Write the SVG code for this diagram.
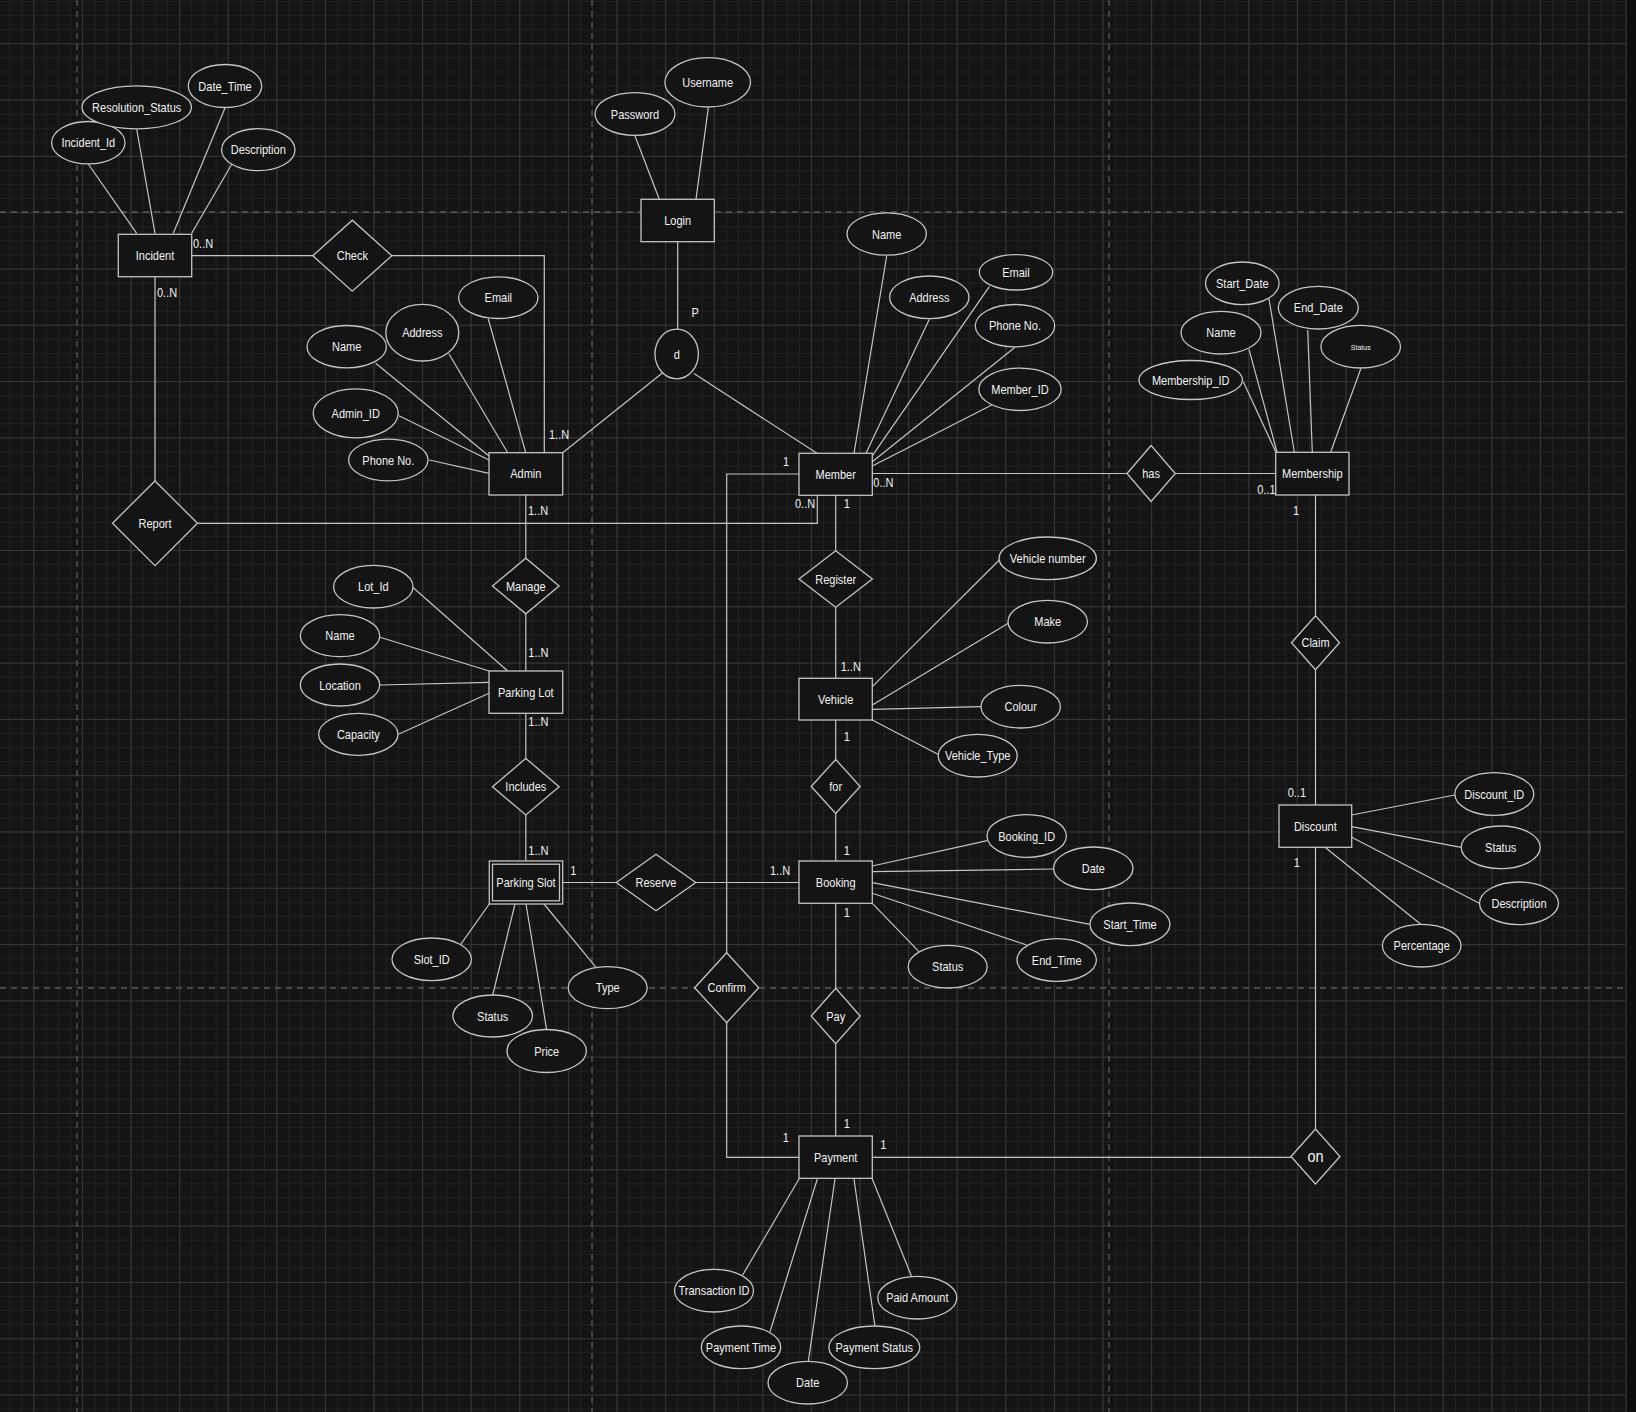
<svg xmlns="http://www.w3.org/2000/svg" width="1636" height="1412" viewBox="0 0 1636 1412">
<defs>
<style>
.ent{fill:#141414;stroke:#c4c4c4;stroke-width:1.3}
.lnk{fill:none;stroke:#c4c4c4;stroke-width:1.2}
.pg{stroke:#5a5a5a;stroke-width:1.3;stroke-dasharray:6 5;fill:none}
text{font-family:"Liberation Sans",Arial,Helvetica,sans-serif;font-size:11px;fill:#f2f2f2;text-anchor:middle}
.lb{text-anchor:start}
</style>
<pattern id="minor" x="33.3" y="43.3" width="12.15" height="14.075" patternUnits="userSpaceOnUse"><path d="M0 0.5H12.15M0.5 0V14.075" stroke="#212121" stroke-width="1"/></pattern>
<pattern id="major" x="33.3" y="43.3" width="48.6" height="56.3" patternUnits="userSpaceOnUse"><path d="M0 0.5H48.6M0.5 0V56.3" stroke="#363636" stroke-width="1"/></pattern>
</defs>
<rect width="1636" height="1412" fill="#141414"/>
<rect width="1626" height="1412" fill="url(#minor)"/>
<rect width="1626" height="1412" fill="url(#major)"/>
<rect x="1626" y="0" width="10" height="1412" fill="#0e0e0e"/>
<path d="M1626.5 0V1412" stroke="#2c2c2c" stroke-width="1"/>
<g id="page-breaks">
<path class="pg" d="M77 0V1412M592 0V1412M1109 0V1412M0 212H1626M0 988H1626"/>
</g>
<g id="connectors">
<path class="lnk" d="M88.3 164L136.7 233.3M136.7 129L155 233.3M225 108L173.3 233.3M231.7 164.3L191.7 233.3"/>
<path class="lnk" d="M191.7 255.7H312.8M391.8 255.7H544.3V452.7"/>
<path class="lnk" d="M155 276.7V481M197.5 523.3H817.3V495.3"/>
<path class="lnk" d="M635 136L659.3 199.3M708.3 107.7L696 199.3M677.7 241.7V329.2M662.7 372.7L562.7 452.7M694 373.5L817 453.3"/>
<path class="lnk" d="M375.7 363.3L489 456M449 354L507.7 452.7M488.3 319L525.7 452.7M399 415.7L489 460M429.3 460L489 473.3"/>
<path class="lnk" d="M525.8 495V558.2M525.8 613.8V671M525.8 713.3V758.4M525.8 815V861"/>
<path class="lnk" d="M413.3 587.7L507.7 671M380 637.3L489 671M380 685L489 682.3M398.3 734.3L489 693.3"/>
<path class="lnk" d="M460.7 944.3L489.3 904M492.7 995L515 904M546.7 1030L526 904M596 967.3L544 904"/>
<path class="lnk" d="M562.7 882.5H616.3M695.7 882.5H799"/>
<path class="lnk" d="M799 474H726.7V1157.3H799"/>
<path class="lnk" d="M886.7 256L854 453.3M929.3 319.3L866 453.3M989.3 286.7L871.7 456.7M1015 347.3L872.3 461.7M991.7 405L872.3 466"/>
<path class="lnk" d="M872.3 473.5H1127M1175.3 473.5H1275.7"/>
<path class="lnk" d="M1243.3 381.7L1275.7 451.7M1249 349.3L1277 452M1269 299L1294.3 452M1307.7 330L1312.3 452M1360.7 369L1330.7 452"/>
<path class="lnk" d="M1315.5 495V615.7M1315.5 669.7V805M1315.5 847.3V1129M872.3 1157.3H1291"/>
<path class="lnk" d="M1455 795L1351.7 815M1461 847.3L1351.7 826.7M1479.3 903.3L1351.7 837.3M1421.7 925L1325 847.3"/>
<path class="lnk" d="M835.7 495.3V550.7M835.7 607.3V678.3M835.7 720V759.5M835.7 813.5V861M835.7 903.3V988.2M835.7 1043.8V1136"/>
<path class="lnk" d="M999.3 560L872.3 686.7M1008.3 623.3L872.3 705M981.7 706.7L872.3 709.3M939.3 755L872.3 720"/>
<path class="lnk" d="M987.3 840.7L872.3 866M1054 869L872.3 871.7M1090 924.3L872.3 882.7M1026.7 945L872.3 893.3M919 951.7L872.3 903.3"/>
<path class="lnk" d="M742.7 1275L799 1179M770 1331.7L817.3 1179M808.3 1361.7L835 1179M875 1326.7L854 1179M911.7 1276.7L872.3 1179"/>
</g>
<g id="cardinalities">
<text class="lb" transform="translate(193 243) scale(1 1.16)" y="4">0..N</text>
<text class="lb" transform="translate(157 292) scale(1 1.16)" y="4">0..N</text>
<text class="lb" transform="translate(549 434) scale(1 1.16)" y="4">1..N</text>
<text class="lb" transform="translate(528 510.7) scale(1 1.16)" y="4">1..N</text>
<text class="lb" transform="translate(691.5 312.7) scale(1 1.16)" y="4">P</text>
<text transform="translate(786 461) scale(1 1.16)" y="4">1</text>
<text class="lb" transform="translate(873.3 482.3) scale(1 1.16)" y="4">0..N</text>
<text class="lb" transform="translate(795 503.3) scale(1 1.16)" y="4">0..N</text>
<text transform="translate(846.7 503.3) scale(1 1.16)" y="4">1</text>
<text class="lb" transform="translate(1257.3 489.3) scale(1 1.16)" y="4">0..1</text>
<text transform="translate(1296 510) scale(1 1.16)" y="4">1</text>
<text class="lb" transform="translate(528.3 652.7) scale(1 1.16)" y="4">1..N</text>
<text class="lb" transform="translate(528.3 721.7) scale(1 1.16)" y="4">1..N</text>
<text class="lb" transform="translate(528.3 850) scale(1 1.16)" y="4">1..N</text>
<text transform="translate(573.3 870.7) scale(1 1.16)" y="4">1</text>
<text class="lb" transform="translate(770 870) scale(1 1.16)" y="4">1..N</text>
<text class="lb" transform="translate(840.7 666.7) scale(1 1.16)" y="4">1..N</text>
<text transform="translate(846.7 736) scale(1 1.16)" y="4">1</text>
<text transform="translate(846.7 850) scale(1 1.16)" y="4">1</text>
<text transform="translate(846.7 912.3) scale(1 1.16)" y="4">1</text>
<text class="lb" transform="translate(1287.7 792.7) scale(1 1.16)" y="4">0..1</text>
<text transform="translate(1296.7 862.7) scale(1 1.16)" y="4">1</text>
<text transform="translate(846.7 1123.3) scale(1 1.16)" y="4">1</text>
<text transform="translate(785.7 1137.7) scale(1 1.16)" y="4">1</text>
<text transform="translate(883.3 1144.3) scale(1 1.16)" y="4">1</text>
</g>
<g id="incident"><rect class="ent" x="118.3" y="234.3" width="73.4" height="42.4"/><text transform="translate(155 255.5) scale(1 1.16)" y="4">Incident</text></g>
<g id="login"><rect class="ent" x="641" y="199.3" width="73.3" height="42.4"/><text transform="translate(677.7 220.5) scale(1 1.16)" y="4">Login</text></g>
<g id="admin"><rect class="ent" x="489" y="452.7" width="73.7" height="42.3"/><text transform="translate(525.8 473.8) scale(1 1.16)" y="4">Admin</text></g>
<g id="member"><rect class="ent" x="799" y="453.3" width="73.3" height="42"/><text transform="translate(835.7 474.3) scale(1 1.16)" y="4">Member</text></g>
<g id="membership"><rect class="ent" x="1275.7" y="452.3" width="73.3" height="42.7"/><text transform="translate(1312.3 473.7) scale(1 1.16)" y="4">Membership</text></g>
<g id="parking-lot"><rect class="ent" x="489" y="671" width="73.7" height="42.3"/><text transform="translate(525.8 692) scale(1 1.16)" y="4">Parking Lot</text></g>
<g id="vehicle"><rect class="ent" x="799" y="678.3" width="73.3" height="41.7"/><text transform="translate(835.7 699) scale(1 1.16)" y="4">Vehicle</text></g>
<g id="parking-slot"><rect class="ent" x="489.3" y="861" width="73.4" height="43"/><rect class="ent" x="492.5" y="864.2" width="67" height="36.6"/><text transform="translate(526 882.5) scale(1 1.16)" y="4">Parking Slot</text></g>
<g id="booking"><rect class="ent" x="799" y="861" width="73.3" height="42.3"/><text transform="translate(835.7 882) scale(1 1.16)" y="4">Booking</text></g>
<g id="discount"><rect class="ent" x="1279" y="805" width="72.7" height="42.3"/><text transform="translate(1315.3 826) scale(1 1.16)" y="4">Discount</text></g>
<g id="payment"><rect class="ent" x="799" y="1136" width="73.3" height="42.3"/><text transform="translate(835.7 1157) scale(1 1.16)" y="4">Payment</text></g>
<g id="check"><path class="ent" d="M312.8 255.7L352.3 220.2L391.8 255.7L352.3 291.2Z"/><text transform="translate(352.3 255.7) scale(1 1.16)" y="4">Check</text></g>
<g id="report"><path class="ent" d="M112.5 523.3L155 481L197.5 523.3L155 565.6Z"/><text transform="translate(155 523.3) scale(1 1.16)" y="4">Report</text></g>
<g id="manage"><path class="ent" d="M492.5 586L525.8 558.2L559.1 586L525.8 613.8Z"/><text transform="translate(525.8 586) scale(1 1.16)" y="4">Manage</text></g>
<g id="includes"><path class="ent" d="M492.5 786.7L525.8 758.4L559.1 786.7L525.8 815Z"/><text transform="translate(525.8 786.7) scale(1 1.16)" y="4">Includes</text></g>
<g id="reserve"><path class="ent" d="M616.3 882.5L656 854.2L695.7 882.5L656 910.8Z"/><text transform="translate(656 882.5) scale(1 1.16)" y="4">Reserve</text></g>
<g id="confirm"><path class="ent" d="M694.7 987.7L726.7 952.7L758.7 987.7L726.7 1022.7Z"/><text transform="translate(726.7 987.7) scale(1 1.16)" y="4">Confirm</text></g>
<g id="register"><path class="ent" d="M799 579L835.7 550.7L872.4 579L835.7 607.3Z"/><text transform="translate(835.7 579) scale(1 1.16)" y="4">Register</text></g>
<g id="for"><path class="ent" d="M811.2 786.5L835.7 759.5L860.2 786.5L835.7 813.5Z"/><text transform="translate(835.7 786.5) scale(1 1.16)" y="4">for</text></g>
<g id="pay"><path class="ent" d="M811.2 1016L835.7 988.2L860.2 1016L835.7 1043.8Z"/><text transform="translate(835.7 1016) scale(1 1.16)" y="4">Pay</text></g>
<g id="has"><path class="ent" d="M1127 473.5L1151.1 445.5L1175.3 473.5L1151.1 501.5Z"/><text transform="translate(1151.1 473.5) scale(1 1.16)" y="4">has</text></g>
<g id="claim"><path class="ent" d="M1291.5 642.7L1315.5 615.7L1339.5 642.7L1315.5 669.7Z"/><text transform="translate(1315.5 642.7) scale(1 1.16)" y="4">Claim</text></g>
<g id="on"><path class="ent" d="M1291 1156.5L1315.5 1129L1340 1156.5L1315.5 1184Z"/><text transform="translate(1315.5 1156.5) scale(1 1.16)" y="5" style="font-size:14.5px">on</text></g>
<g id="d"><ellipse class="ent" cx="676.7" cy="354" rx="21.7" ry="24.8"/><text transform="translate(676.7 354) scale(1 1.16)" y="4">d</text></g>
<g id="incident-id"><ellipse class="ent" cx="88.3" cy="142.7" rx="36.7" ry="21.2"/><text transform="translate(88.3 142.7) scale(1 1.16)" y="4">Incident_Id</text></g>
<g id="resolution-status"><ellipse class="ent" cx="136.7" cy="107.3" rx="54.7" ry="21.5"/><text transform="translate(136.7 107.3) scale(1 1.16)" y="4">Resolution_Status</text></g>
<g id="date-time"><ellipse class="ent" cx="225" cy="86" rx="36.7" ry="21.5"/><text transform="translate(225 86) scale(1 1.16)" y="4">Date_Time</text></g>
<g id="incident-description"><ellipse class="ent" cx="258.3" cy="149.7" rx="36.7" ry="21"/><text transform="translate(258.3 149.7) scale(1 1.16)" y="4">Description</text></g>
<g id="password"><ellipse class="ent" cx="635" cy="114" rx="40" ry="21.3"/><text transform="translate(635 114) scale(1 1.16)" y="4">Password</text></g>
<g id="username"><ellipse class="ent" cx="707.7" cy="82.3" rx="42.8" ry="24.7"/><text transform="translate(707.7 82.3) scale(1 1.16)" y="4">Username</text></g>
<g id="admin-email"><ellipse class="ent" cx="498.3" cy="297.7" rx="39.7" ry="20.8"/><text transform="translate(498.3 297.7) scale(1 1.16)" y="4">Email</text></g>
<g id="admin-address"><ellipse class="ent" cx="422.3" cy="332.7" rx="36.5" ry="28.3"/><text transform="translate(422.3 332.7) scale(1 1.16)" y="4">Address</text></g>
<g id="admin-name"><ellipse class="ent" cx="346.7" cy="346.7" rx="39.7" ry="21.2"/><text transform="translate(346.7 346.7) scale(1 1.16)" y="4">Name</text></g>
<g id="admin-id"><ellipse class="ent" cx="355.7" cy="413.3" rx="42.5" ry="24.5"/><text transform="translate(355.7 413.3) scale(1 1.16)" y="4">Admin_ID</text></g>
<g id="admin-phone"><ellipse class="ent" cx="388.3" cy="460" rx="39.7" ry="20.8"/><text transform="translate(388.3 460) scale(1 1.16)" y="4">Phone No.</text></g>
<g id="lot-id"><ellipse class="ent" cx="373.3" cy="586.7" rx="39.7" ry="21.3"/><text transform="translate(373.3 586.7) scale(1 1.16)" y="4">Lot_Id</text></g>
<g id="lot-name"><ellipse class="ent" cx="340" cy="635.7" rx="39.7" ry="21"/><text transform="translate(340 635.7) scale(1 1.16)" y="4">Name</text></g>
<g id="lot-location"><ellipse class="ent" cx="340" cy="685" rx="39.7" ry="21"/><text transform="translate(340 685) scale(1 1.16)" y="4">Location</text></g>
<g id="lot-capacity"><ellipse class="ent" cx="358.3" cy="734.3" rx="39.7" ry="21"/><text transform="translate(358.3 734.3) scale(1 1.16)" y="4">Capacity</text></g>
<g id="slot-id"><ellipse class="ent" cx="431.7" cy="959.3" rx="39.7" ry="21.3"/><text transform="translate(431.7 959.3) scale(1 1.16)" y="4">Slot_ID</text></g>
<g id="slot-status"><ellipse class="ent" cx="492.7" cy="1016" rx="39.8" ry="21"/><text transform="translate(492.7 1016) scale(1 1.16)" y="4">Status</text></g>
<g id="slot-price"><ellipse class="ent" cx="546.7" cy="1051" rx="39.7" ry="21.5"/><text transform="translate(546.7 1051) scale(1 1.16)" y="4">Price</text></g>
<g id="slot-type"><ellipse class="ent" cx="607.7" cy="987.7" rx="39.5" ry="21"/><text transform="translate(607.7 987.7) scale(1 1.16)" y="4">Type</text></g>
<g id="member-name"><ellipse class="ent" cx="886.7" cy="234" rx="39.7" ry="21.2"/><text transform="translate(886.7 234) scale(1 1.16)" y="4">Name</text></g>
<g id="member-address"><ellipse class="ent" cx="929.3" cy="297.3" rx="39.7" ry="21.3"/><text transform="translate(929.3 297.3) scale(1 1.16)" y="4">Address</text></g>
<g id="member-email"><ellipse class="ent" cx="1016" cy="272.3" rx="36.7" ry="17.7"/><text transform="translate(1016 272.3) scale(1 1.16)" y="4">Email</text></g>
<g id="member-phone"><ellipse class="ent" cx="1015" cy="325.7" rx="39.7" ry="21.2"/><text transform="translate(1015 325.7) scale(1 1.16)" y="4">Phone No.</text></g>
<g id="member-id"><ellipse class="ent" cx="1020" cy="389.3" rx="41.2" ry="21.2"/><text transform="translate(1020 389.3) scale(1 1.16)" y="4">Member_ID</text></g>
<g id="membership-id"><ellipse class="ent" cx="1190.7" cy="380" rx="51.7" ry="19.5"/><text transform="translate(1190.7 380) scale(1 1.16)" y="4">Membership_ID</text></g>
<g id="membership-name"><ellipse class="ent" cx="1221" cy="332.7" rx="40" ry="21.3"/><text transform="translate(1221 332.7) scale(1 1.16)" y="4">Name</text></g>
<g id="start-date"><ellipse class="ent" cx="1242.3" cy="283.3" rx="36.8" ry="21.3"/><text transform="translate(1242.3 283.3) scale(1 1.16)" y="4">Start_Date</text></g>
<g id="end-date"><ellipse class="ent" cx="1318.3" cy="307.7" rx="40" ry="21.3"/><text transform="translate(1318.3 307.7) scale(1 1.16)" y="4">End_Date</text></g>
<g id="membership-status"><ellipse class="ent" cx="1360.7" cy="346.7" rx="39.8" ry="21.3"/><text transform="translate(1360.7 346.7) scale(1 1.16)" y="2.6" style="font-size:7px">Status</text></g>
<g id="vehicle-number"><ellipse class="ent" cx="1047.7" cy="558.3" rx="48.7" ry="21.3"/><text transform="translate(1047.7 558.3) scale(1 1.16)" y="4">Vehicle number</text></g>
<g id="make"><ellipse class="ent" cx="1047.7" cy="621.7" rx="39.7" ry="21.3"/><text transform="translate(1047.7 621.7) scale(1 1.16)" y="4">Make</text></g>
<g id="colour"><ellipse class="ent" cx="1020.7" cy="706.7" rx="39.7" ry="21.3"/><text transform="translate(1020.7 706.7) scale(1 1.16)" y="4">Colour</text></g>
<g id="vehicle-type"><ellipse class="ent" cx="977.7" cy="755.7" rx="39.5" ry="21.3"/><text transform="translate(977.7 755.7) scale(1 1.16)" y="4">Vehicle_Type</text></g>
<g id="booking-id"><ellipse class="ent" cx="1026.7" cy="836" rx="39.7" ry="21.3"/><text transform="translate(1026.7 836) scale(1 1.16)" y="4">Booking_ID</text></g>
<g id="booking-date"><ellipse class="ent" cx="1093.3" cy="868.3" rx="39.7" ry="21.3"/><text transform="translate(1093.3 868.3) scale(1 1.16)" y="4">Date</text></g>
<g id="start-time"><ellipse class="ent" cx="1130" cy="924.3" rx="40" ry="21.3"/><text transform="translate(1130 924.3) scale(1 1.16)" y="4">Start_Time</text></g>
<g id="end-time"><ellipse class="ent" cx="1056.7" cy="960" rx="39.7" ry="21.3"/><text transform="translate(1056.7 960) scale(1 1.16)" y="4">End_Time</text></g>
<g id="booking-status"><ellipse class="ent" cx="947.7" cy="966.7" rx="39.5" ry="21.3"/><text transform="translate(947.7 966.7) scale(1 1.16)" y="4">Status</text></g>
<g id="discount-id"><ellipse class="ent" cx="1494.3" cy="794" rx="39.5" ry="21.3"/><text transform="translate(1494.3 794) scale(1 1.16)" y="4">Discount_ID</text></g>
<g id="discount-status"><ellipse class="ent" cx="1500.7" cy="847.3" rx="39.5" ry="21.3"/><text transform="translate(1500.7 847.3) scale(1 1.16)" y="4">Status</text></g>
<g id="discount-description"><ellipse class="ent" cx="1519" cy="903.3" rx="39.5" ry="21.3"/><text transform="translate(1519 903.3) scale(1 1.16)" y="4">Description</text></g>
<g id="percentage"><ellipse class="ent" cx="1421.7" cy="945.7" rx="39.3" ry="21.3"/><text transform="translate(1421.7 945.7) scale(1 1.16)" y="4">Percentage</text></g>
<g id="transaction-id"><ellipse class="ent" cx="714" cy="1290.7" rx="39.5" ry="21.3"/><text transform="translate(714 1290.7) scale(1 1.16)" y="4">Transaction ID</text></g>
<g id="payment-time"><ellipse class="ent" cx="741" cy="1347.3" rx="39.7" ry="21.3"/><text transform="translate(741 1347.3) scale(1 1.16)" y="4">Payment Time</text></g>
<g id="payment-date"><ellipse class="ent" cx="807.7" cy="1382.7" rx="39.7" ry="21.3"/><text transform="translate(807.7 1382.7) scale(1 1.16)" y="4">Date</text></g>
<g id="payment-status"><ellipse class="ent" cx="874.3" cy="1347.3" rx="45.5" ry="21.3"/><text transform="translate(874.3 1347.3) scale(1 1.16)" y="4">Payment Status</text></g>
<g id="paid-amount"><ellipse class="ent" cx="917.3" cy="1297.7" rx="39.5" ry="21.3"/><text transform="translate(917.3 1297.7) scale(1 1.16)" y="4">Paid Amount</text></g>
</svg>
